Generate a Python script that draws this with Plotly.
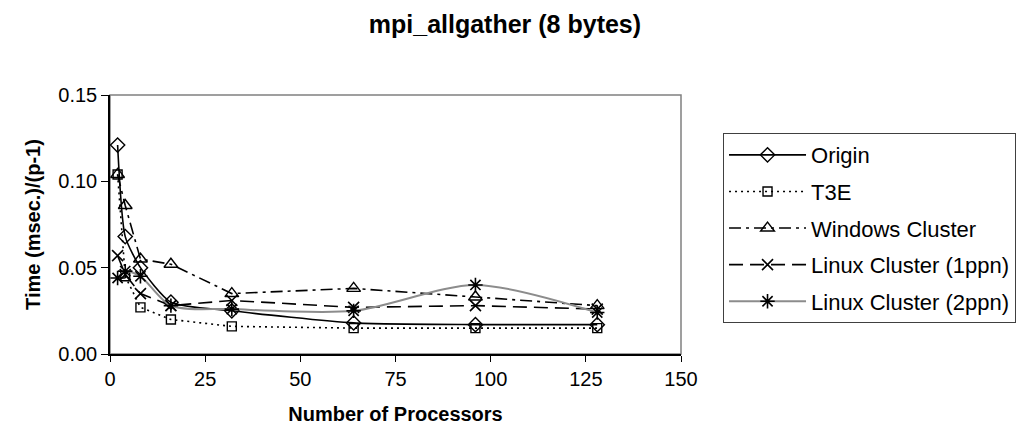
import plotly.graph_objects as go

procs = [2, 4, 8, 16, 32, 64, 96, 128]
origin = [0.121, 0.068, 0.050, 0.030, 0.025, 0.018, 0.017, 0.017]
t3e = [0.104, 0.045, 0.027, 0.020, 0.016, 0.015, 0.015, 0.015]
windows = [0.104, 0.086, 0.055, 0.052, 0.035, 0.038, 0.033, 0.028]
linux1 = [0.057, 0.046, 0.035, 0.028, 0.031, 0.027, 0.028, 0.026]
linux2 = [0.044, 0.048, 0.045, 0.028, 0.026, 0.025, 0.040, 0.024]

names = ["Origin", "T3E", "Windows Cluster", "Linux Cluster (1ppn)", "Linux Cluster (2ppn)"]
series = [origin, t3e, windows, linux1, linux2]

FONT = "Arial, 'Liberation Sans', sans-serif"

styles = [
    dict(line=dict(color="black", width=1.6, dash="solid", shape="spline", smoothing=0.6),
         marker=dict(symbol="diamond-open", size=11, color="black", line=dict(color="black", width=1.4))),
    dict(line=dict(color="black", width=1.6, dash="2px,4px"),
         marker=dict(symbol="square-open", size=9, color="black", line=dict(color="black", width=1.4))),
    dict(line=dict(color="black", width=1.6, dash="12px,5px,3px,5px"),
         marker=dict(symbol="triangle-up-open", size=12, color="black", line=dict(color="black", width=1.4))),
    dict(line=dict(color="black", width=1.6, dash="14px,7px"),
         marker=dict(symbol="x-thin-open", size=11, color="black", line=dict(color="black", width=1.6))),
    dict(line=dict(color="#8c8c8c", width=2, dash="solid", shape="spline", smoothing=0.8),
         marker=dict(symbol="asterisk-open", size=12, color="black", line=dict(color="black", width=1.6))),
]

fig = go.Figure()
for i, (n, s) in enumerate(zip(names, series)):
    fig.add_trace(go.Scatter(x=procs, y=s, name=n, mode="lines+markers",
                             legendgroup=f"g{i}", **styles[i]))

fig.update_layout(
    width=1016, height=446,
    margin=dict(l=110, r=335, t=95, b=92, autoexpand=False),
    paper_bgcolor="white", plot_bgcolor="white",
    font=dict(family=FONT, size=20, color="black"),
    title=dict(text="<b>mpi_allgather (8 bytes)</b>", x=0.497, xanchor="center",
               y=0.946, yanchor="middle", font=dict(family=FONT, size=25, color="black")),
    showlegend=True,
    legend=dict(x=1.0736, xanchor="left", y=0.853, yanchor="top",
                bordercolor="#404040", borderwidth=1, bgcolor="white",
                font=dict(family=FONT, size=22, color="black"),
                itemwidth=77, tracegroupgap=5, traceorder="grouped"),
    shapes=[dict(type="rect", xref="x domain", yref="y domain", x0=0, x1=1, y0=0, y1=1,
                 line=dict(color="#808080", width=1.5), layer="below")],
)

fig.update_xaxes(range=[0, 150], tickvals=[0, 25, 50, 75, 100, 125, 150],
                 showgrid=False, zeroline=False, showline=True, linecolor="black", linewidth=1.5,
                 ticks="outside", ticklen=6, tickcolor="black", tickwidth=1.2,
                 title=dict(text="<b>Number of Processors</b>", standoff=18,
                            font=dict(family=FONT, size=20, color="black")))
fig.update_yaxes(range=[0, 0.15], tickvals=[0, 0.05, 0.10, 0.15], tickformat=".2f",
                 showgrid=False, zeroline=False, showline=True, linecolor="black", linewidth=1.5,
                 ticks="outside", ticklen=7, tickcolor="black", tickwidth=1.2,
                 title=dict(text="<b>Time (msec.)/(p-1)</b>", standoff=12,
                            font=dict(family=FONT, size=20, color="black")))

fig.write_html("out.html")
